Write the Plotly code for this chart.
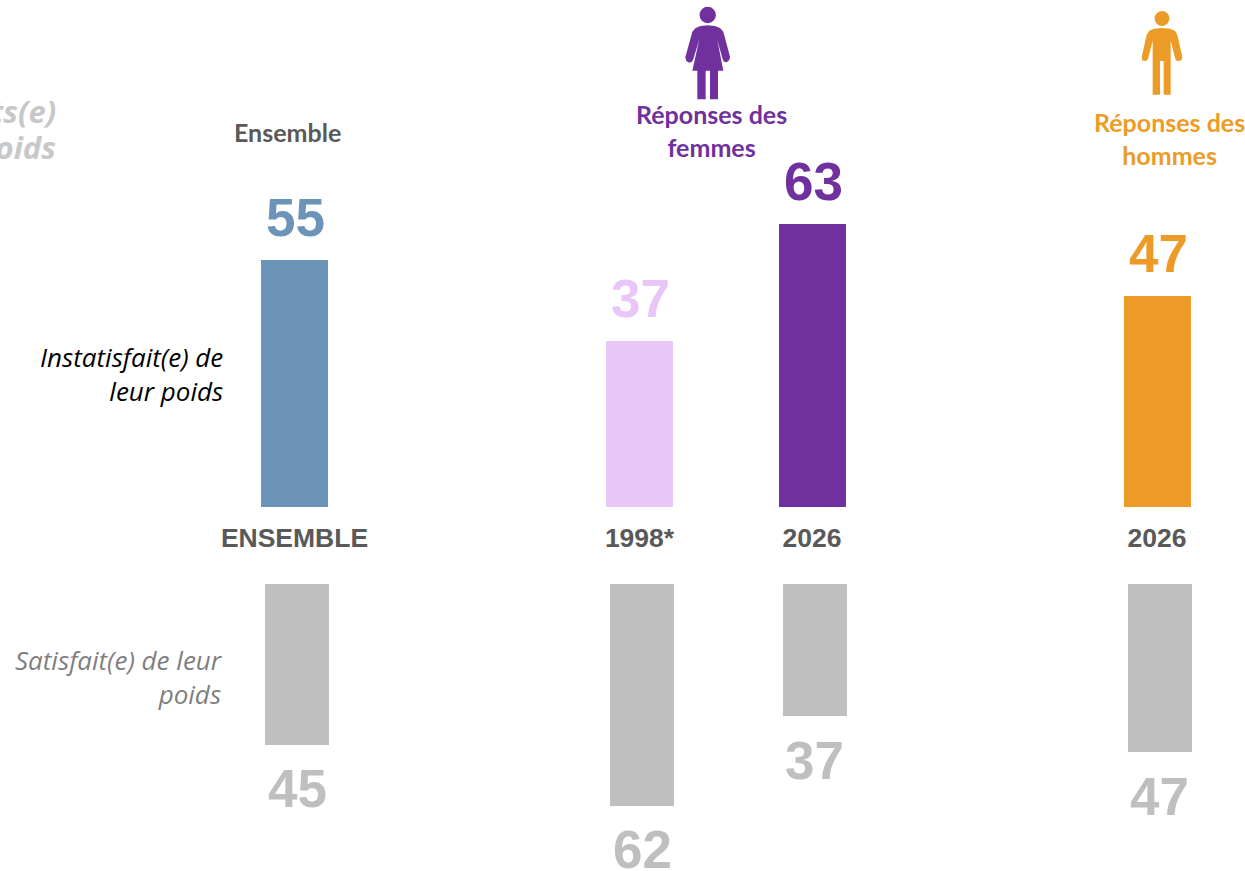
import plotly.graph_objects as go

# --- data ---
tick_labels = ["ENSEMBLE", "1998*", "2026", "2026"]
slots = [0, 2, 3, 5]
instatisfait = [55, 37, 63, 47]
satisfait = [45, 62, 37, 47]

# --- styles ---
W, H = 1245, 871
BLUE, LILAC, PURPLE, ORANGE, GREY, DARK = "#6C94B8", "#E9C6F8", "#70309E", "#EC9C26", "#BFBFBF", "#595959"
top_colors = [BLUE, LILAC, PURPLE, ORANGE]
SANS = "Liberation Sans, Arial, sans-serif"
HUM = "Lato, Calibri, sans-serif"
OPEN = "Open Sans, sans-serif"
SLOT = 172.5


def x_range(px0):
    return [-px0 / SLOT, (W - px0) / SLOT]


fig = go.Figure()
fig.add_trace(go.Bar(
    x=slots, y=instatisfait, width=67 / SLOT, marker=dict(color=top_colors, line_width=0),
    xaxis="x", yaxis="y", showlegend=False, hoverinfo="skip"))
fig.add_trace(go.Bar(
    x=slots, y=satisfait, width=64 / SLOT, marker=dict(color=GREY, line_width=0),
    xaxis="x2", yaxis="y2", showlegend=False, hoverinfo="skip"))


def px(x):
    return x / W


def py(y):
    return 1 - y / H


def icon_path(points, ox, oy):
    pts = [(px(ox + a / 3), py(oy + b / 3)) for a, b in points]
    return "M" + " L".join(f"{a:.5f},{b:.5f}" for a, b in pts) + " Z"


woman = [(143, 76), (165, 78), (180, 84), (190, 95), (210, 170), (208, 180), (200, 187), (192, 185), (188, 178), (172, 120),
         (190, 212), (174, 212), (174, 298), (150, 298), (150, 212), (137, 212), (137, 298), (112, 298), (112, 212),
         (97, 212), (118, 118), (100, 178), (96, 185), (88, 188), (79, 183), (76, 172), (97, 95), (107, 84), (121, 78)]
man = [(126, 84), (150, 86), (165, 92), (172, 105), (187, 172), (184, 181), (176, 184), (168, 181), (166, 176), (152, 122),
       (152, 284), (131, 284), (131, 183), (120, 183), (120, 284), (98, 284), (98, 122), (84, 176), (81, 181), (74, 184),
       (67, 181), (65, 172), (80, 105), (88, 92), (102, 86)]


def head(cx, cy, r, color):
    return dict(type="circle", xref="paper", yref="paper", x0=px(cx - r), x1=px(cx + r), y0=py(cy + r), y1=py(cy - r),
                fillcolor=color, line_width=0)


shapes = [
    head(707.7, 15, 8.2, PURPLE),
    dict(type="path", xref="paper", yref="paper", path=icon_path(woman, 660, 0), fillcolor=PURPLE, line_width=0),
    head(1162, 18.5, 7.4, ORANGE),
    dict(type="path", xref="paper", yref="paper", path=icon_path(man, 1120, 0), fillcolor=ORANGE, line_width=0),
]


def note(text, x, y, size, color, anchor="center", bold=False, italic=False, family=HUM):
    return dict(text=text, xref="paper", yref="paper", x=px(x), y=py(y), xanchor=anchor, yanchor="middle",
                align=anchor if anchor != "center" else "center", showarrow=False, borderpad=0, borderwidth=0,
                font=dict(family=family, size=size, color=color, weight="bold" if bold else "normal",
                          style="italic" if italic else "normal"))


annotations = [
    note("Ensemble", 287, 132, 25, DARK, bold=True),
    note("Réponses des<br>femmes", 711, 131, 25, PURPLE, bold=True),
    note("Réponses des<br>hommes", 1169, 138, 25, ORANGE, bold=True),
    note("Instatisfait(e) de<br>leur poids", 223, 374.5, 26, "#000000", anchor="right", italic=True, family=OPEN),
    note("Satisfait(e) de leur<br>poids", 223, 677, 26, "#7F7F7F", anchor="right", italic=True, family=OPEN),
    note("Insatisfaits(e)", 56, 111, 31, "#C8C8C8", anchor="right", bold=True, italic=True, family=OPEN),
    note("de leur poids", 56, 147, 31, "#C8C8C8", anchor="right", bold=True, italic=True, family=OPEN),
]

# Value labels: tied to the bars through the data axes.
for s, v, c in zip(slots, instatisfait, top_colors):
    annotations.append(dict(text=str(v), xref="x", yref="y", x=s, y=v, yanchor="middle", yshift=42, xshift=1,
                            showarrow=False, borderpad=0,
                            font=dict(family=SANS, size=53, color=c, weight="bold")))
for s, v in zip(slots, satisfait):
    annotations.append(dict(text=str(v), xref="x2", yref="y2", x=s, y=v, yanchor="middle", yshift=-44,
                            showarrow=False, borderpad=0,
                            font=dict(family=SANS, size=53, color=GREY, weight="bold")))

axis_off = dict(showgrid=False, zeroline=False, showline=False, ticks="", fixedrange=True)
fig.update_layout(
    width=W, height=H, margin=dict(l=0, r=0, t=0, b=0, pad=0), autosize=False,
    paper_bgcolor="white", plot_bgcolor="white", bargap=0, barmode="overlay",
    shapes=shapes, annotations=annotations,
    xaxis=dict(domain=[0, 1], range=x_range(294.5), anchor="y", tickmode="array", tickvals=slots, ticktext=tick_labels,
               tickfont=dict(family=SANS, size=26.5, color=DARK, weight="bold"), ticklabelstandoff=12, **axis_off),
    yaxis=dict(domain=[1 - 507 / H, 1], range=[0, 507 / 4.5], showticklabels=False, anchor="x", **axis_off),
    xaxis2=dict(domain=[0, 1], range=x_range(297), anchor="y2", showticklabels=False, side="top", **axis_off),
    yaxis2=dict(domain=[0, 1 - 584 / H], range=[(H - 584) / 3.575, 0], showticklabels=False, anchor="x2", **axis_off),
)
fig.write_html("out.html", config=dict(displayModeBar=False),
               post_script="document.body.style.margin='0';document.documentElement.style.overflow='hidden';")
